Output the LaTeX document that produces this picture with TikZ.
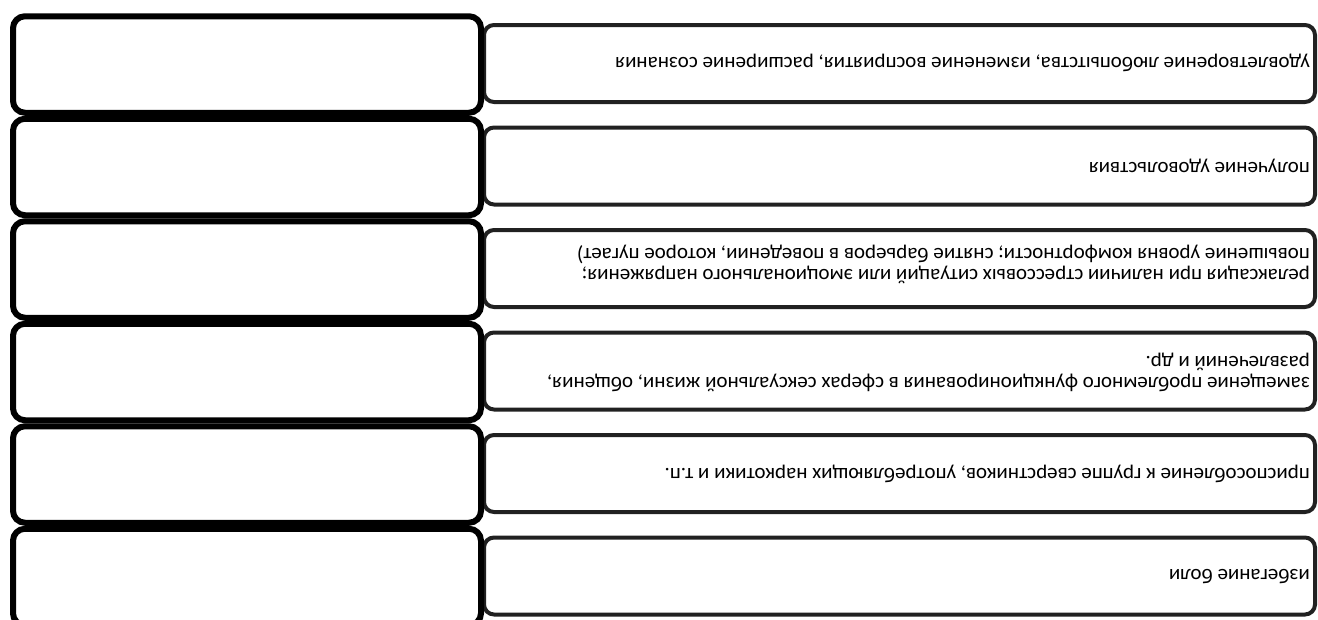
\documentclass[tikz,border=0pt]{standalone}
\usepackage{fontspec}
\setmainfont{Carlito}
\usepackage{tikz}
\definecolor{rim}{rgb}{0.13,0.13,0.13}

\begin{document}
\begin{tikzpicture}[x=1pt, y=1pt,
  lbox/.style={draw, line width=6pt, rounded corners=12pt, fill=white, minimum width=468pt, minimum height=96.5pt, inner sep=0pt},
  tbox/.style={draw=rim, line width=4pt, rounded corners=10pt, fill=white, minimum width=831pt, minimum height=77pt, inner sep=0pt},
  txt/.style={rotate=180, anchor=west, inner sep=0pt, align=left, font=\fontsize{21}{21}\selectfont}]
\useasboundingbox (0,0) rectangle (1318,-619);
\clip (0,0) rectangle (1318,-619);
% text strips
\node[tbox] (t1) at (899.5,-63.5) {};
\node[tbox] (t2) at (899.5,-166) {};
\node[tbox] (t3) at (899.5,-268.5) {};
\node[tbox] (t4) at (899.5,-371) {};
\node[tbox] (t5) at (899.5,-473.5) {};
\node[tbox] (t6) at (899.5,-576) {};
% empty boxes
\node[lbox] (b1) at (247,-64.5) {};
\node[lbox] (b2) at (247,-167) {};
\node[lbox] (b3) at (247,-269.5) {};
\node[lbox] (b4) at (247,-372) {};
\node[lbox] (b5) at (247,-474.5) {};
\node[lbox] (b6) at (247,-577) {};
% labels
\node[txt] (l1) at (1310,-63) {удовлетворение любопытства, изменение восприятия, расширение сознания};
\node[txt] (l2) at (1310,-166) {получение удовольствия};
\node[txt] (l3) at (1310,-264) {релаксация при наличии стрессовых ситуаций или эмоционального напряжения;\\повышение уровня комфортности; снятие барьеров в поведении, которое пугает)};
\node[txt] (l4) at (1310,-372) {замещение проблемного функционирования в сферах сексуальной жизни, общения,\\развлечений и др.};
\node[txt] (l5) at (1310,-474) {приспособление к группе сверстников, употребляющих наркотики и т.п.};
\node[txt] (l6) at (1310,-577) {избегание боли};
\end{tikzpicture}
\end{document}
